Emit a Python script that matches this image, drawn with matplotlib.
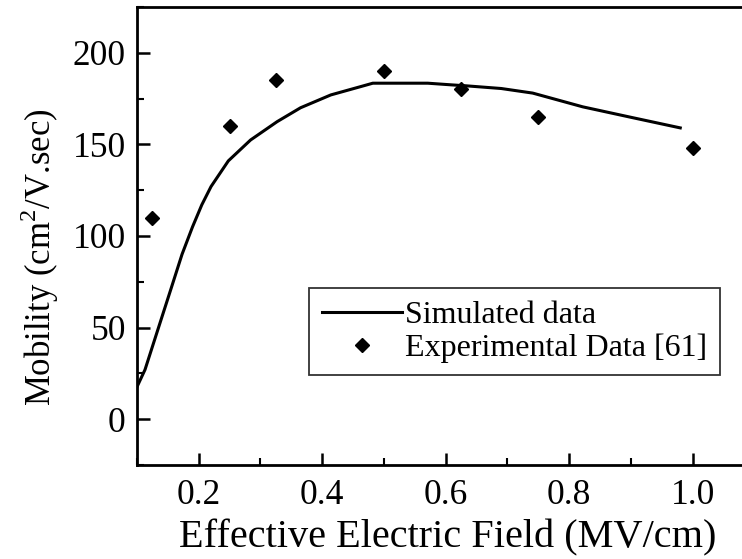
import matplotlib
matplotlib.use('Agg')
import matplotlib.pyplot as plt
from matplotlib.ticker import MultipleLocator, FormatStrFormatter

# simulated mobility curve
sim_field = [0.1, 0.113, 0.133, 0.154, 0.173, 0.19, 0.205, 0.22, 0.248, 0.284,
             0.327, 0.365, 0.414, 0.463, 0.482, 0.571, 0.609, 0.632, 0.69,
             0.741, 0.822, 0.904, 0.98]
sim_mob = [17.6, 27, 48, 70, 90, 105, 117, 127, 141, 152.4,
           162.4, 170, 177, 181.6, 183.4, 183.4, 182.5, 182, 180.5,
           178, 170.5, 164.5, 159]

# experimental points [61]
exp_field = [0.125, 0.25, 0.325, 0.5, 0.625, 0.75, 1.0]
exp_mob = [110, 160, 185, 190, 180, 165, 148]

plt.rcParams['font.family'] = ['Liberation Serif', 'DejaVu Serif']
plt.rcParams['mathtext.fontset'] = 'custom'
plt.rcParams['mathtext.rm'] = 'Liberation Serif'

fig = plt.figure(figsize=(7.42, 5.59), dpi=100, facecolor='w')
ax = fig.add_axes([0.1846, 0.1682, 0.8154, 0.8193])

ax.plot(sim_field, sim_mob, color='k', lw=2.2, label='Simulated data')
ax.plot(exp_field, exp_mob, ls='none', marker='D', ms=7, color='k',
        label='Experimental Data [61]')

ax.set_xlim(0.1, 1.08)
ax.set_ylim(-25, 225)
ax.xaxis.set_major_locator(MultipleLocator(0.2))
ax.xaxis.set_minor_locator(MultipleLocator(0.1))
ax.yaxis.set_major_locator(MultipleLocator(50))
ax.yaxis.set_minor_locator(MultipleLocator(25))
ax.xaxis.set_major_formatter(FormatStrFormatter('%.1f'))

ax.tick_params(which='major', direction='in', length=9, width=1.8,
               labelsize=25.5)
ax.tick_params(axis='x', pad=10)
ax.tick_params(axis='y', pad=8)
ax.tick_params(which='minor', direction='in', length=5, width=1.5)
ax.tick_params(top=False, right=False)

for side in ['left', 'bottom', 'top']:
    ax.spines[side].set_linewidth(2.0)
ax.spines['right'].set_visible(False)

ax.set_xlabel('Effective Electric Field (MV/cm)', fontsize=29)
ax.xaxis.set_label_coords(0.513, -0.118)
ax.set_ylabel(r'Mobility (cm$^2$/V.sec)', fontsize=25)
ax.yaxis.set_label_coords(-0.125, 0.454)

leg = ax.legend(loc='upper right', bbox_to_anchor=(0.970, 0.485),
                bbox_transform=fig.transFigure, fontsize=23, frameon=True,
                fancybox=False, edgecolor='k', handlelength=2.5,
                handletextpad=0.1, labelspacing=0.1, borderpad=0.4,
                borderaxespad=0)
leg.get_frame().set_linewidth(1.3)

fig.savefig('out.png', dpi=100)
